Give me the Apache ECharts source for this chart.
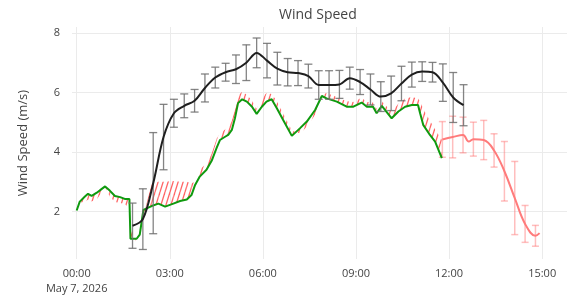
<!DOCTYPE html>
<html>
<head>
<meta charset="utf-8">
<script src="https://cdn.jsdelivr.net/npm/echarts@6/dist/echarts.min.js"></script>
<style>
  html, body { margin: 0; padding: 0; background: #fff; }
  #chart { width: 571px; height: 306px; }
</style>
</head>
<body>
<div id="chart"></div>
<script>
// observed wind speed (green), minutes after midnight on May 7
const obsMinutes = [0, 6, 16, 22, 29, 39, 48, 55, 64, 74, 84, 93, 102, 104, 116, 122, 129, 145, 158, 171,
  187, 200, 213, 222, 229, 238, 251, 261, 271, 277, 287, 293, 300, 306, 312, 320, 329, 339, 348, 358,
  367, 377, 387, 399, 416, 432, 445, 461, 474, 483, 503, 522, 535, 551, 561, 573, 580, 590, 609, 622,
  635, 648, 660, 664, 670, 683, 693, 706]
const obsSpeed = [2.03, 2.33, 2.50, 2.59, 2.52, 2.63, 2.75, 2.84, 2.70, 2.52, 2.48, 2.42, 2.42, 1.08, 1.08, 1.22, 2.05, 2.18, 2.26, 2.16,
  2.26, 2.35, 2.40, 2.55, 2.89, 3.17, 3.40, 3.70, 4.15, 4.40, 4.51, 4.57, 4.74, 5.13, 5.64, 5.77, 5.69, 5.52, 5.28, 5.52,
  5.69, 5.77, 5.47, 5.08, 4.54, 4.80, 5.02, 5.41, 5.88, 5.80, 5.69, 5.52, 5.52, 5.66, 5.52, 5.52, 5.30, 5.55, 5.13, 5.36,
  5.52, 5.58, 5.58, 5.30, 4.91, 4.57, 4.35, 3.79]
// forecast over the same period (hatched against the observation)
const fcstOverlap = [2.03, 2.30, 2.32, 2.40, 2.33, 2.42, 2.62, 2.80, 2.50, 2.32, 2.28, 2.25, 2.10, 1.50, 0.92, 1.15, 1.83, 2.95, 3.00, 3.00,
  3.02, 3.00, 3.00, 2.95, 3.00, 3.40, 3.62, 3.95, 4.45, 4.62, 4.75, 4.85, 5.05, 5.45, 5.90, 6.02, 5.92, 5.72, 5.45, 5.80,
  5.98, 5.95, 5.70, 5.30, 4.72, 4.62, 4.85, 5.25, 5.92, 5.98, 5.85, 5.70, 5.68, 5.82, 5.68, 5.66, 5.45, 5.70, 5.35, 5.62,
  5.80, 5.85, 5.80, 5.70, 5.45, 5.05, 4.75, 4.40]

// forecast ahead (red line with error bars)
const fcstMinutes = [707, 727, 747, 758, 767, 787, 807, 827, 847, 867, 887, 895]
const fcstSpeed = [4.42, 4.50, 4.57, 4.35, 4.43, 4.40, 4.05, 3.35, 2.45, 1.58, 1.18, 1.27]
const fcstErr = [0.60, 0.70, 0.60, null, 0.57, 0.66, 0.56, 1.00, 1.23, 0.62, 0.35, null]

// model mean (black) with error bars
const modelMinutes = [108, 128, 148, 168, 188, 208, 228, 248, 268, 288, 308, 328, 348, 368, 388, 408, 428,
  448, 468, 488, 508, 528, 548, 568, 588, 608, 628, 648, 668, 688, 708, 728, 748]
const modelSpeed = [1.52, 1.74, 2.95, 4.50, 5.30, 5.55, 5.72, 6.15, 6.50, 6.68, 6.78, 7.00, 7.33, 7.07, 6.80, 6.68, 6.65,
  6.55, 6.25, 6.25, 6.27, 6.48, 6.35, 6.10, 5.86, 5.97, 6.30, 6.60, 6.70, 6.68, 6.33, 5.83, 5.57]
const modelErr = [0.76, 1.02, 1.70, 1.10, 0.47, 0.40, 0.38, 0.47, 0.35, 0.30, 0.48, 0.60, 0.50, 0.58, 0.55, 0.46, 0.42,
  0.40, 0.48, 0.48, 0.47, 0.37, 0.42, 0.52, 0.50, 0.58, 0.58, 0.42, 0.33, 0.33, 0.63, 0.84, 0.69]

const xTickLabels = ['00:00\nMay 7, 2026', '03:00', '06:00', '09:00', '12:00', '15:00']

// diagonal hatch for the gap between forecast and observation
function hatchPattern() {
  const c = document.createElement('canvas')
  c.width = 5
  c.height = 16
  const ctx = c.getContext('2d')
  ctx.strokeStyle = 'rgba(255,75,75,0.85)'
  ctx.lineWidth = 1.3
  for (let o = -5; o <= 5; o += 5) {
    ctx.beginPath()
    ctx.moveTo(o, 16)
    ctx.lineTo(o + 5, 0)
    ctx.stroke()
  }
  return c
}
const hatch = { image: hatchPattern(), repeat: 'repeat' }

function errorBars(color, half, width) {
  return function (params, api) {
    const x = api.value(0)
    const top = api.coord([x, api.value(2)])
    const bot = api.coord([x, api.value(1)])
    const style = { stroke: color, lineWidth: width }
    return {
      type: 'group',
      children: [
        { type: 'line', shape: { x1: top[0], y1: top[1], x2: bot[0], y2: bot[1] }, style },
        { type: 'line', shape: { x1: top[0] - half, y1: top[1], x2: top[0] + half, y2: top[1] }, style },
        { type: 'line', shape: { x1: bot[0] - half, y1: bot[1], x2: bot[0] + half, y2: bot[1] }, style },
      ],
    }
  }
}

// one quad per interval between obs and forecast
function gapItem(params, api) {
  const t0 = api.value(0), t1 = api.value(3)
  const pts = [
    api.coord([t0, api.value(1)]),
    api.coord([t1, api.value(4)]),
    api.coord([t1, api.value(5)]),
    api.coord([t0, api.value(2)]),
  ]
  return { type: 'polygon', shape: { points: pts }, style: { fill: hatch, stroke: null } }
}

const toH = m => m / 60
const obsData = obsMinutes.map((m, i) => [toH(m), obsSpeed[i]])
const gapData = []
for (let i = 0; i < obsMinutes.length - 1; i++) {
  gapData.push([toH(obsMinutes[i]), obsSpeed[i], fcstOverlap[i],
    toH(obsMinutes[i + 1]), obsSpeed[i + 1], fcstOverlap[i + 1]])
}
const fcstData = fcstMinutes.map((m, i) => [toH(m), fcstSpeed[i]])
const fcstBars = []
fcstMinutes.forEach((m, i) => {
  if (fcstErr[i] != null) fcstBars.push([toH(m), fcstSpeed[i] - fcstErr[i], fcstSpeed[i] + fcstErr[i]])
})
const modelData = modelMinutes.map((m, i) => [toH(m), modelSpeed[i]])
const modelBars = modelMinutes.map((m, i) => [toH(m), modelSpeed[i] - modelErr[i], modelSpeed[i] + modelErr[i]])

const font = '"Open Sans", "Liberation Sans", sans-serif'
const chart = echarts.init(document.getElementById('chart'))
const option = {
  animation: false,
  backgroundColor: '#fff',
  textStyle: { fontFamily: font },
  title: {
    text: 'Wind Speed',
    left: 279,
    top: 8,
    padding: 0,
    textStyle: { color: '#444', fontSize: 14, fontWeight: 'normal', fontFamily: font },
  },
  grid: { left: 72, right: 4, top: 27, bottom: 47 },
  xAxis: {
    type: 'value',
    min: -0.15,
    max: 15.8,
    minInterval: 3,
    maxInterval: 3,
    axisLine: { show: false },
    axisTick: { show: false },
    splitLine: { show: true, showMinLine: false, showMaxLine: false, lineStyle: { color: '#ebebeb', width: 1 } },
    axisLabel: {
      color: '#444',
      fontSize: 11,
      margin: 7,
      lineHeight: 15,
      showMinLabel: false,
      showMaxLabel: false,
      formatter: function (v) {
        const k = Math.round(v / 3)
        if (Math.abs(v - k * 3) > 0.01) return ''
        return xTickLabels[k] || ''
      },
    },
  },
  yAxis: {
    type: 'value',
    min: 0.4,
    max: 8.2,
    minInterval: 2,
    maxInterval: 2,
    name: 'Wind Speed (m/s)',
    nameLocation: 'middle',
    nameGap: 42,
    nameTextStyle: { color: '#444', fontSize: 13 },
    axisLine: { show: false },
    axisTick: { show: false },
    splitLine: { show: true, showMinLine: false, showMaxLine: false, lineStyle: { color: '#ebebeb', width: 1 } },
    axisLabel: {
      color: '#444',
      fontSize: 11,
      margin: 12,
      showMinLabel: false,
      showMaxLabel: false,
      formatter: v => (Math.abs(v - Math.round(v)) < 0.01 ? String(Math.round(v)) : ''),
    },
  },
  series: [
    {
      name: 'gap',
      type: 'custom',
      data: gapData,
      encode: { x: [0, 3], y: [1, 2, 4, 5] },
      z: 2,
      renderItem: gapItem,
    },
    {
      name: 'obs',
      type: 'line',
      data: obsData,
      symbol: 'none',
      z: 4,
      lineStyle: { color: '#0f9a0f', width: 2 },
    },
    {
      name: 'fcstBars',
      type: 'custom',
      data: fcstBars,
      encode: { x: 0, y: [1, 2] },
      z: 2,
      renderItem: errorBars('rgba(255,110,110,0.45)', 3.5, 1.5),
    },
    {
      name: 'fcst',
      type: 'line',
      data: fcstData,
      symbol: 'none',
      smooth: 0.4,
      z: 3,
      lineStyle: { color: '#ff7b7b', width: 2 },
    },
    {
      name: 'modelBars',
      type: 'custom',
      data: modelBars,
      encode: { x: 0, y: [1, 2] },
      z: 5,
      renderItem: errorBars('rgba(110,110,110,0.85)', 4, 1.3),
    },
    {
      name: 'model',
      type: 'line',
      data: modelData,
      symbol: 'none',
      smooth: 0.35,
      z: 6,
      lineStyle: { color: '#1f1f1f', width: 2 },
    },
  ],
}
chart.setOption(option)
</script>
</body>
</html>
